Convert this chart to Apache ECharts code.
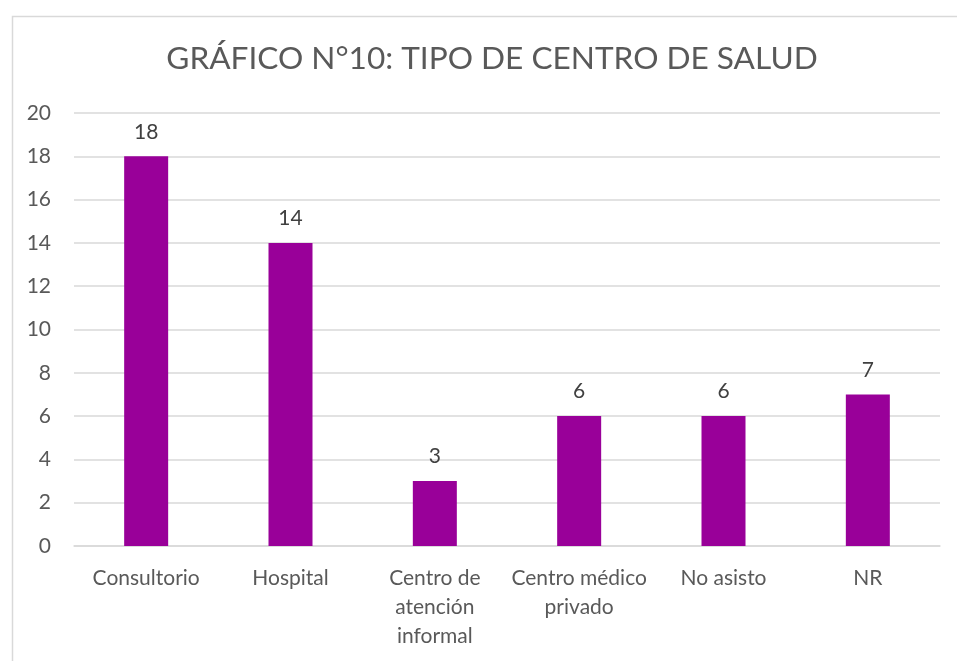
<!DOCTYPE html>
<html>
<head>
<meta charset="utf-8">
<script src="https://cdn.jsdelivr.net/npm/echarts@6/dist/echarts.min.js"></script>
<style>html,body{margin:0;padding:0;background:#fff;}#c{width:957px;height:661px;}</style>
</head>
<body>
<div id="c"></div>
<script>
const titleText = 'GRÁFICO N°10: TIPO DE CENTRO DE SALUD';
const categories = ['Consultorio', 'Hospital', 'Centro de\natención\ninformal', 'Centro médico\nprivado', 'No asisto', 'NR'];
const values = [18, 14, 3, 6, 6, 7];
const yMin = 0, yMax = 20, yStep = 2;

const FONT = 'Lato';
const chart = echarts.init(document.getElementById('c'));
chart.setOption({
  animation: false,
  backgroundColor: '#ffffff',
  graphic: [{
    type: 'rect', left: 10, top: 14,
    shape: { width: 980, height: 700 },
    style: { fill: 'none', stroke: '#d9d9d9', lineWidth: 1.5 },
    silent: true, z: -1
  }],
  title: {
    text: titleText, left: 487, top: 38, textAlign: 'center',
    textStyle: { fontFamily: FONT, fontSize: 31.6, fontWeight: 'normal', color: '#595959' }
  },
  grid: { left: 74, right: 17, top: 113, bottom: 115, containLabel: false },
  xAxis: {
    type: 'category', data: categories,
    axisLine: { show: true, lineStyle: { color: '#d9d9d9', width: 1.5 } },
    axisTick: { show: false },
    axisLabel: { fontFamily: FONT, fontSize: 21, color: '#595959', margin: 18, lineHeight: 29, interval: 0 }
  },
  yAxis: {
    type: 'value', min: yMin, max: yMax, interval: yStep,
    axisLine: { show: false }, axisTick: { show: false },
    splitLine: { lineStyle: { color: '#d9d9d9', width: 1.5 } },
    axisLabel: { fontFamily: FONT, fontSize: 21, color: '#595959', margin: 23 }
  },
  series: [{
    type: 'bar', data: values, barWidth: 44,
    itemStyle: { color: '#990099' },
    label: { show: true, position: 'top', distance: 14, fontFamily: FONT, fontSize: 21, color: '#404040' }
  }]
});
</script>
</body>
</html>
